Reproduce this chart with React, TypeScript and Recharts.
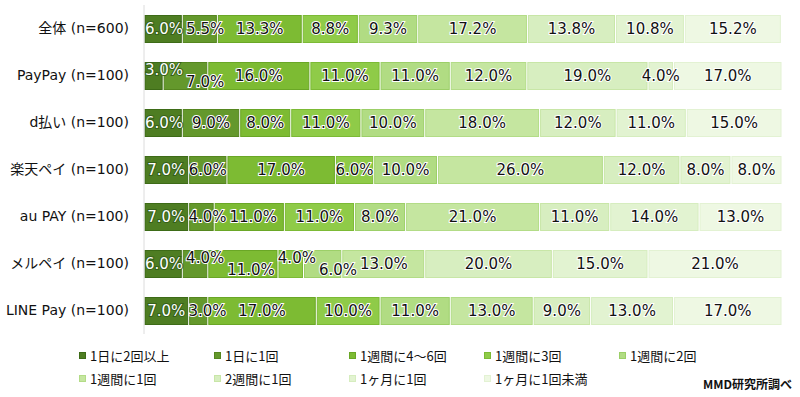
import { BarChart, Bar, XAxis, YAxis, LabelList } from 'recharts'

const categories = [
  '全体 (n=600)',
  'PayPay (n=100)',
  'd払い (n=100)',
  '楽天ペイ (n=100)',
  'au PAY (n=100)',
  'メルペイ (n=100)',
  'LINE Pay (n=100)',
]

const seriesNames = [
  '1日に2回以上',
  '1日に1回',
  '1週間に4～6回',
  '1週間に3回',
  '1週間に2回',
  '1週間に1回',
  '2週間に1回',
  '1ヶ月に1回',
  '1ヶ月に1回未満',
]

// share per frequency, left to right
const overall = [6.0, 5.5, 13.3, 8.8, 9.3, 17.2, 13.8, 10.8, 15.2]
const paypay = [3.0, 7.0, 16.0, 11.0, 11.0, 12.0, 19.0, 4.0, 17.0]
const dbarai = [6.0, 9.0, 8.0, 11.0, 10.0, 18.0, 12.0, 11.0, 15.0]
const rakuten = [7.0, 6.0, 17.0, 6.0, 10.0, 26.0, 12.0, 8.0, 8.0]
const aupay = [7.0, 4.0, 11.0, 11.0, 8.0, 21.0, 11.0, 14.0, 13.0]
const merpay = [6.0, 4.0, 11.0, 4.0, 6.0, 13.0, 20.0, 15.0, 21.0]
const linepay = [7.0, 3.0, 17.0, 10.0, 11.0, 13.0, 9.0, 13.0, 17.0]

const rows = [overall, paypay, dbarai, rakuten, aupay, merpay, linepay]

const colors = ['#4e7d22', '#64982c', '#7dbb33', '#8fcb48', '#b1dc83', '#c5e6a0', '#d7eec0', '#e2f3d1', '#eef8e3']
const edges = ['#3d6b17', '#55861f', '#6aa726', '#7cba35', '#9ccf68', '#b3dc87', '#c8e6a7', '#d6edbf', '#e3f2d3']

// labels lifted (-1) or dropped (+1) to keep them apart: "row-series"
const labelNudge: Record<string, number> = {
  '1-0': -1,
  '1-1': 1,
  '5-1': -1,
  '5-2': 1,
  '5-3': -1,
  '5-4': 1,
}

const LABEL_FONT = 15
const fmt = (v: number) => `${v.toFixed(1)}%`
const textWidth = (t: string) =>
  t.split('').reduce((w, c) => w + (c === '.' ? 4.77 : c === '%' ? 14.25 : 9.54), 0) * (LABEL_FONT / 15)

const data = categories.map((name, i) => {
  const row: Record<string, string | number> = { name }
  rows[i].forEach((v, s) => {
    row[`s${s}`] = v
  })
  return row
})

// centre of each label in a row, pushed right when it would run into the one before
const labelCentres = (row: number[], left: number, k: number) => {
  const out: number[] = []
  let cum = 0
  let prevEnd = left + 1
  row.forEach((v) => {
    const w = textWidth(fmt(v))
    let start = left + (cum + v / 2) * k - w / 2
    if (start < prevEnd) start = prevEnd
    out.push(start + w / 2)
    prevEnd = start + w + 3
    cum += v
  })
  return out
}

const Segment = (props: any) => {
  const { x, y, width, height, fill, seriesIndex } = props
  if (!width || width <= 0) return null
  return (
    <rect
      x={x + 1}
      y={y + 0.5}
      width={Math.max(width - 2, 0)}
      height={height - 1}
      fill={fill}
      stroke={edges[seriesIndex]}
      strokeWidth={1}
    />
  )
}

const makeLabel = (s: number) => (props: any) => {
  const { x, y, width, height, value, index } = props
  const row = rows[index]
  const k = width / row[s]
  const before = row.slice(0, s).reduce((a, b) => a + b, 0)
  const left = x - before * k
  const cx = labelCentres(row, left, k)[s]
  const shift = (labelNudge[`${index}-${s}`] || 0) * 6
  const light = s === 0
  return (
    <text
      x={cx}
      y={y + height / 2 + shift}
      textAnchor="middle"
      dominantBaseline="central"
      fontSize={LABEL_FONT}
      fontFamily="'DejaVu Sans', Verdana, sans-serif"
      fill={light ? '#fff' : '#111'}
      stroke={light ? '#35601a' : '#fff'}
      strokeWidth={2}
      paintOrder="stroke"
    >
      {fmt(Number(value))}
    </text>
  )
}

export default function App() {
  return (
    <div style={{ position: 'absolute', left: 0, top: 0, width: 800, height: 397, background: '#fff' }}>
      <BarChart
        width={800}
        height={340}
        data={data}
        layout="vertical"
        margin={{ top: 5, right: 18, bottom: 6, left: 0 }}
        barSize={28}
      >
        <XAxis type="number" domain={[0, 100]} hide />
        <YAxis
          type="category"
          dataKey="name"
          width={144}
          tickLine={false}
          tickMargin={9}
          axisLine={{ stroke: '#dcdcdc' }}
          tick={{ fontSize: 14, fill: '#111', fontFamily: "'DejaVu Sans', 'Noto Sans CJK JP', sans-serif" }}
        />
        {seriesNames.map((name, s) => (
          <Bar
            key={name}
            dataKey={`s${s}`}
            name={name}
            stackId="a"
            fill={colors[s]}
            isAnimationActive={false}
            shape={(p: any) => <Segment {...p} seriesIndex={s} />}
          >
            <LabelList dataKey={`s${s}`} content={makeLabel(s)} />
          </Bar>
        ))}
      </BarChart>

      <div
        style={{
          position: 'absolute',
          left: 79,
          top: 346,
          width: 680,
          display: 'grid',
          gridTemplateColumns: 'repeat(5, 135px)',
          rowGap: 5,
          fontFamily: "'Noto Sans CJK JP', sans-serif",
          fontSize: 13,
          color: '#111',
        }}
      >
        {seriesNames.map((name, s) => (
          <div key={name} style={{ display: 'flex', alignItems: 'center', height: 18, whiteSpace: 'nowrap' }}>
            <span style={{ width: 7, height: 7, background: colors[s], border: `1px solid ${edges[s]}`, marginRight: 4, boxSizing: 'border-box' }} />
            {name}
          </div>
        ))}
      </div>

      <div
        style={{
          position: 'absolute',
          right: 8,
          top: 375,
          fontFamily: "'Noto Sans CJK JP', sans-serif",
          fontWeight: 700,
          fontSize: 12,
          color: '#111',
        }}
      >
        MMD研究所調べ
      </div>
    </div>
  )
}
